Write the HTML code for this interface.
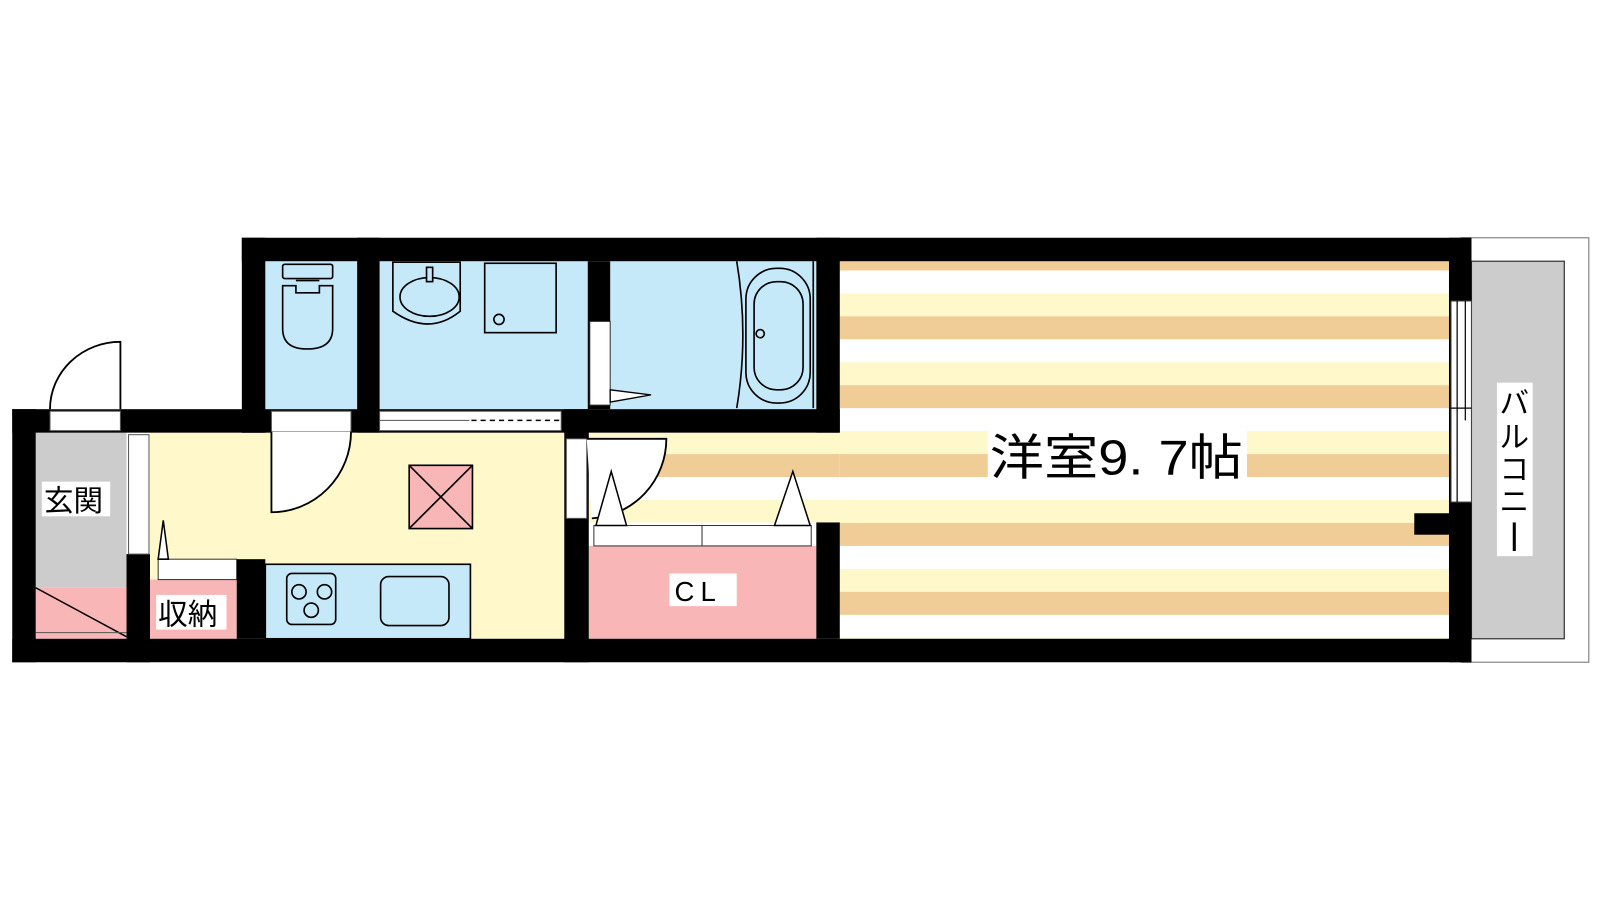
<!DOCTYPE html>
<html><head><meta charset="utf-8"><style>
html,body{margin:0;padding:0;background:#fff;width:1600px;height:900px;overflow:hidden}
svg{display:block}
text{font-family:"Liberation Sans","Noto Sans CJK JP",sans-serif}
</style></head><body>
<svg width="1600" height="900" viewBox="0 0 1568 882" xmlns="http://www.w3.org/2000/svg">
<defs>
<pattern id="st" x="0" y="242.5" width="10" height="67.5" patternUnits="userSpaceOnUse">
<rect x="0" y="0" width="10" height="22.5" fill="#f0cd96"/>
<rect x="0" y="22.5" width="10" height="22.5" fill="#ffffff"/>
<rect x="0" y="45" width="10" height="22.5" fill="#fef8cb"/>
</pattern>
</defs>
<rect x="1432" y="233" width="125" height="416" fill="#fff" stroke="#888" stroke-width="1.2"/>
<rect x="1442" y="256" width="91" height="370" fill="#cccccc" stroke="#333" stroke-width="1.2"/>
<rect x="823" y="256" width="597" height="370" fill="url(#st)"/>
<rect x="577" y="424" width="246" height="88" fill="url(#st)"/>
<rect x="260" y="256" width="90" height="145" fill="#c5e9f9"/>
<rect x="372" y="256" width="204" height="145" fill="#c5e9f9"/>
<rect x="598" y="256" width="202" height="145" fill="#c5e9f9"/>
<rect x="147" y="424" width="406" height="202" fill="#fef8cb"/>
<rect x="35" y="424" width="89" height="152" fill="#cccccc"/>
<rect x="35" y="576" width="89" height="50" fill="#f8b6b6"/>
<line x1="35" y1="576" x2="124" y2="624" stroke="#000" stroke-width="1.5"/>
<line x1="35" y1="620" x2="124" y2="620" stroke="#555" stroke-width="1"/>
<rect x="147" y="568" width="85" height="58" fill="#f8b6b6"/>
<rect x="155" y="548" width="77" height="20" fill="#fff" stroke="#333" stroke-width="1"/>
<polygon points="155,548 160,510 165,548" fill="#fff" stroke="#000" stroke-width="1.5"/>
<rect x="577" y="535" width="223" height="91" fill="#f8b6b6"/>
<rect x="582" y="515" width="106" height="20" fill="#fff" stroke="#333" stroke-width="1"/>
<rect x="688" y="515" width="107" height="20" fill="#fff" stroke="#333" stroke-width="1"/>
<polygon points="759,515 777,462 794,515" fill="#fff" stroke="#000" stroke-width="1.5"/>
<g fill="#000">
<rect x="237" y="233" width="1205" height="23"/>
<rect x="237" y="233" width="23" height="191"/>
<rect x="12" y="401" width="248" height="23"/>
<rect x="12" y="401" width="23" height="248"/>
<rect x="12" y="626" width="1430" height="23"/>
<rect x="1420" y="233" width="22" height="416"/>
<rect x="1386" y="503" width="34" height="21"/>
<rect x="350" y="233" width="22" height="191"/>
<rect x="576" y="256" width="22" height="145"/>
<rect x="800" y="233" width="23" height="191"/>
<rect x="237" y="401" width="586" height="23"/>
<rect x="553" y="401" width="24" height="248"/>
<rect x="800" y="512" width="23" height="114"/>
<rect x="124" y="543" width="23" height="106"/>
<rect x="232" y="548" width="28" height="78"/>
</g>
<rect x="49" y="403" width="69" height="19" fill="#fff" stroke="#555" stroke-width="1"/>
<path d="M49,401 A69,66 0 0 1 118,335 L118,401" fill="#fff" stroke="#000" stroke-width="1.8"/>
<rect x="126" y="426" width="20" height="117" fill="#fff" stroke="#555" stroke-width="1"/>
<rect x="266" y="403" width="78" height="20" fill="#fff" stroke="#555" stroke-width="1"/>
<path d="M266,423 L266,502 A78,79 0 0 0 344,423" fill="#fff" stroke="#000" stroke-width="1.8"/>
<rect x="372" y="403" width="178" height="19" fill="#fff" stroke="#555" stroke-width="1"/>
<line x1="372" y1="412" x2="460" y2="412" stroke="#555" stroke-width="1"/>
<line x1="462" y1="412" x2="550" y2="412" stroke="#000" stroke-width="1.5" stroke-dasharray="5,4"/>
<rect x="578" y="315" width="20" height="82" fill="#fff" stroke="#333" stroke-width="1"/>
<polygon points="598,382 638,387 598,394" fill="#fff" stroke="#000" stroke-width="1.3"/>
<rect x="555" y="430" width="20" height="78" fill="#fff" stroke="#555" stroke-width="1"/>
<path d="M575,430 L653,430 A78,78 0 0 1 580,508" fill="#fff" stroke="#000" stroke-width="1.8"/>
<polygon points="584,515 599,462 614,515" fill="#fff" stroke="#000" stroke-width="1.5"/>
<rect x="1422" y="295" width="20" height="197" fill="#fff" stroke="#444" stroke-width="1"/>
<line x1="1428" y1="295" x2="1428" y2="492" stroke="#000" stroke-width="1.2"/>
<line x1="1436" y1="295" x2="1436" y2="412" stroke="#000" stroke-width="1.2"/>
<line x1="1422" y1="400" x2="1442" y2="400" stroke="#000" stroke-width="1.2"/>
<g fill="none" stroke="#000" stroke-width="1.6">
<rect x="277" y="259" width="49" height="14" rx="2"/>
<path d="M277,280 L290,280 L290,287 L313,287 L313,280 L326,280 L326,322 Q326,342 301,342 Q277,342 277,322 Z"/>
<line x1="290" y1="275" x2="313" y2="275"/>
<path d="M385,257 L451,257 L451,305 Q420,330 385,305 Z"/>
<ellipse cx="421" cy="291" rx="29" ry="19"/>
<rect x="418" y="262" width="6" height="14" fill="#c5e9f9"/>
<rect x="475" y="258" width="70" height="68"/>
<circle cx="489" cy="313" r="5"/>
<path d="M722,256 Q734,328 722,400"/>
<rect x="731" y="263" width="63" height="132" rx="30"/>
<rect x="739" y="276" width="48" height="106" rx="22"/>
<circle cx="745" cy="327" r="4"/>
<line x1="797" y1="256" x2="797" y2="400"/>
<rect x="401" y="456" width="62" height="62" fill="#f8b6b6"/>
<line x1="401" y1="456" x2="463" y2="518"/>
<line x1="463" y1="456" x2="401" y2="518"/>
<rect x="260" y="553" width="201" height="73" fill="#c5e9f9"/>
<rect x="281" y="562" width="48" height="50" rx="5"/>
<circle cx="293" cy="580" r="7"/><circle cx="318" cy="580" r="7"/><circle cx="305" cy="598" r="7"/>
<rect x="373" y="565" width="67" height="48" rx="8"/>
</g>
<rect x="968" y="420" width="254" height="52" fill="#fff"/>
<text x="970" y="465" font-size="48" fill="#000" textLength="248" lengthAdjust="spacingAndGlyphs">洋室9. 7帖</text>
<rect x="41" y="472" width="67" height="34" fill="#fff"/>
<text x="43" y="501" font-size="29" fill="#000">玄関</text>
<rect x="153" y="583" width="69" height="34" fill="#fff"/>
<text x="155" y="612" font-size="29" fill="#000">収納</text>
<rect x="656" y="562" width="66" height="32" fill="#fff"/>
<text x="661" y="589" font-size="27" fill="#000" letter-spacing="6">CL</text>
<rect x="1467" y="375" width="35" height="170" fill="#fff"/>
<text x="1484" y="405" font-size="29" fill="#000" text-anchor="middle">バ</text>
<text x="1484" y="438" font-size="29" fill="#000" text-anchor="middle">ル</text>
<text x="1484" y="470" font-size="29" fill="#000" text-anchor="middle">コ</text>
<text x="1484" y="502" font-size="29" fill="#000" text-anchor="middle">ニ</text>
<line x1="1484" y1="512" x2="1484" y2="540" stroke="#000" stroke-width="3"/>
</svg>
</body></html>
